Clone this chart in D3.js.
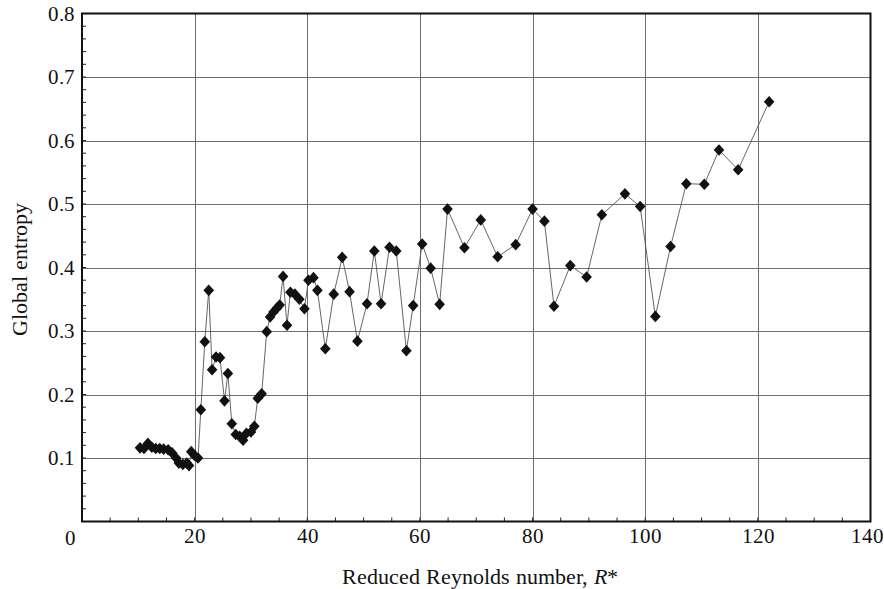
<!DOCTYPE html>
<html>
<head>
<meta charset="utf-8">
<script src="https://cdn.jsdelivr.net/npm/d3@7"></script>
<style>
  @font-face {
    font-family: "ChartSerif";
    src: local("Liberation Serif"), local("LiberationSerif"), local("LiberationSerif-Regular"), local("Tinos"), local("Times New Roman");
    font-style: normal;
  }
  @font-face {
    font-family: "ChartSerif";
    src: local("Liberation Serif Italic"), local("LiberationSerif-Italic"), local("Tinos Italic"), local("Times New Roman Italic");
    font-style: italic;
  }
</style>
</head>
<body style="margin:0">
<svg id="chart" width="884" height="589" font-family="ChartSerif, Liberation Serif, serif"></svg>
<script>
// Reduced Reynolds number R*
const reynolds = [
  10.3, 11.0, 11.7, 12.4, 13.1, 13.8, 14.5, 15.3, 16.0, 16.7, 17.2, 17.9, 18.6, 19.0, 19.4, 20.0, 20.6,
  21.1, 21.8, 22.5, 23.1, 23.8, 24.5, 25.3, 25.9, 26.6, 27.3, 28.0, 28.6, 29.2, 30.0, 30.6, 31.2, 31.9,
  32.8, 33.4, 34.0, 34.6, 35.1, 35.7, 36.4, 37.0, 37.8, 38.6, 39.5, 40.2, 41.1, 41.8, 43.2, 44.7,
  46.2, 47.5, 48.9, 50.6, 51.9, 53.1, 54.6, 55.8, 57.6, 58.8, 60.4, 61.9, 63.5, 64.9, 67.9, 70.8,
  73.8, 77.0, 80.0, 82.1, 83.8, 86.7, 89.6, 92.3, 96.4, 99.1, 101.8, 104.5, 107.3, 110.5, 113.1,
  116.5, 122.0
];
// Global entropy
const entropy = [
  0.116, 0.115, 0.123, 0.117, 0.115, 0.115, 0.114, 0.113, 0.108, 0.100, 0.092, 0.090, 0.092, 0.088, 0.110, 0.104, 0.100,
  0.176, 0.283, 0.364, 0.239, 0.259, 0.258, 0.190, 0.233, 0.154, 0.137, 0.134, 0.128, 0.139, 0.141, 0.150, 0.194, 0.201,
  0.299, 0.322, 0.330, 0.336, 0.341, 0.386, 0.309, 0.361, 0.358, 0.350, 0.335, 0.380, 0.384, 0.364, 0.272, 0.358,
  0.416, 0.362, 0.284, 0.343, 0.426, 0.343, 0.432, 0.426, 0.269, 0.340, 0.437, 0.399, 0.342, 0.492, 0.431, 0.475,
  0.417, 0.436, 0.492, 0.473, 0.339, 0.403, 0.385, 0.483, 0.516, 0.496, 0.323, 0.433, 0.532, 0.531, 0.585,
  0.554, 0.661
];
const xTicks = [20, 40, 60, 80, 100, 120, 140];
const yTicks = [0.1, 0.2, 0.3, 0.4, 0.5, 0.6, 0.7, 0.8];
const xMinor = d3.range(5, 140, 5);
const yMinor = d3.range(0.02, 0.8, 0.02);

const points = reynolds.map((r, i) => ({ r, e: entropy[i] }));

const svg = d3.select("#chart").style("display", "block").style("background", "#fff");
const plotLeft = 82, plotRight = 870.5, plotTop = 13.5, plotBottom = 521.5;

// serif typeface for every text element
function serifText(sel, size) {
  return sel
    .attr("font-family", "ChartSerif, Liberation Serif, serif")
    .style("font-family", "ChartSerif, \"Liberation Serif\", serif")
    .style("font-size", size + "px")
    .style("fill", "#111");
}

const x = d3.scaleLinear().domain([0, 140]).range([plotLeft, plotRight]);
const y = d3.scaleLinear().domain([0, 0.8]).range([plotBottom, plotTop]);

// grid lines
const grid = svg.append("g").attr("stroke", "#6e6e6e").attr("stroke-width", 1);
grid.selectAll("line.gx").data(xTicks.slice(0, -1)).join("line")
  .attr("x1", d => Math.round(x(d)) + 0.5).attr("x2", d => Math.round(x(d)) + 0.5)
  .attr("y1", plotTop).attr("y2", plotBottom);
grid.selectAll("line.gy").data(yTicks.slice(0, -1)).join("line")
  .attr("y1", d => Math.round(y(d)) + 0.5).attr("y2", d => Math.round(y(d)) + 0.5)
  .attr("x1", plotLeft).attr("x2", plotRight);

// minor ticks pointing inward
const minor = svg.append("g").attr("stroke", "#222").attr("stroke-width", 1);
minor.selectAll("line.mx").data(xMinor).join("line")
  .attr("x1", d => x(d)).attr("x2", d => x(d))
  .attr("y1", plotBottom).attr("y2", plotBottom - 4);
minor.selectAll("line.my").data(yMinor).join("line")
  .attr("y1", d => y(d)).attr("y2", d => y(d))
  .attr("x1", plotLeft).attr("x2", plotLeft + 4);

// axes (labels only; frame drawn separately)
const xAxis = svg.append("g").attr("transform", `translate(0,${plotBottom})`)
  .call(d3.axisBottom(x).tickValues(xTicks).tickFormat(d3.format("d")).tickSize(0).tickPadding(7));
const yAxis = svg.append("g").attr("transform", `translate(${plotLeft},0)`)
  .call(d3.axisLeft(y).tickValues(yTicks).tickFormat(d3.format(".1f")).tickSize(0).tickPadding(7));
[xAxis, yAxis].forEach(a => {
  a.attr("font-family", "ChartSerif, Liberation Serif, serif").attr("font-size", 21);
  a.select(".domain").remove();
  serifText(a.selectAll("text"), 21);
});
// keep the rightmost label inside the canvas
xAxis.selectAll("text").filter(d => d === 140).attr("dx", "-0.15em");

// shared origin label
serifText(svg.append("text").attr("x", 70).attr("y", 545).attr("text-anchor", "middle"), 21).text("0");

// plot frame
svg.append("rect").attr("x", plotLeft).attr("y", plotTop)
  .attr("width", plotRight - plotLeft).attr("height", plotBottom - plotTop)
  .attr("fill", "none").attr("stroke", "#111").attr("stroke-width", 2);

// connecting line
svg.append("path").datum(points)
  .attr("fill", "none").attr("stroke", "#555").attr("stroke-width", 0.9)
  .attr("d", d3.line().x(d => x(d.r)).y(d => y(d.e)));

// diamond markers
svg.append("g").selectAll("path").data(points).join("path")
  .attr("transform", d => `translate(${x(d.r)},${y(d.e)})`)
  .attr("d", "M0,-5.8L5.3,0L0,5.8L-5.3,0Z")
  .attr("fill", "#111");

// axis titles
const xTitle = serifText(svg.append("text")
  .attr("x", (plotLeft + plotRight) / 2 + 4).attr("y", 584).attr("text-anchor", "middle"), 22);
xTitle.append("tspan").text("Reduced Reynolds number, ");
xTitle.append("tspan").style("font-style", "italic").text("R");
xTitle.append("tspan").text("*");

serifText(svg.append("text")
  .attr("transform", `translate(27,${(plotTop + plotBottom) / 2 + 2}) rotate(-90)`)
  .attr("text-anchor", "middle"), 22)
  .text("Global entropy");
</script>
</body>
</html>
